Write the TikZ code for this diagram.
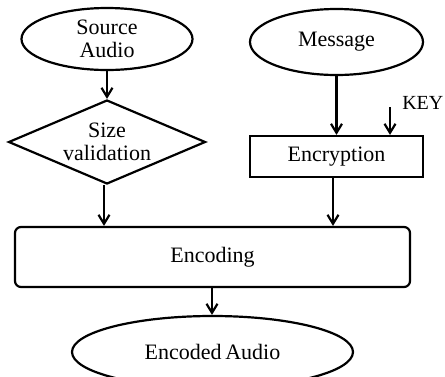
\documentclass[tikz,border=0pt]{standalone}
\usepackage{fontspec}
\setmainfont{Liberation Serif}
\usetikzlibrary{shapes.geometric,arrows.meta}
\begin{document}
\begin{tikzpicture}[x=0.5pt,y=-0.5pt,
  every node/.style={font=\fontsize{11}{11.5}\selectfont, line width=1.1pt, inner sep=0pt, align=center},
  oval/.style={draw, ellipse},
  conn/.style={line width=1.1pt, -{Straight Barb[length=4.5pt,width=5.5pt,line width=1.1pt]}}]
\useasboundingbox (0,0) rectangle (445,376);
\clip (0,0) rectangle (445,376);
\node[oval, minimum width=171pt*0.5, minimum height=62pt*0.5] (src) at (107,39) {Source\\Audio};
\node[draw, diamond, minimum width=197pt*0.5, minimum height=84pt*0.5, aspect=2.35] (val) at (107,142) {Size\\validation};
\node[oval, minimum width=173pt*0.5, minimum height=66pt*0.5] (msg) at (336.5,42) {Message};
\node[draw, rectangle, minimum width=173pt*0.5, minimum height=41pt*0.5] (enc) at (336.5,156.5) {Encryption};
\node[anchor=east, font=\fontsize{10}{11}\selectfont] (key) at (444.5,103) {KEY};
\coordinate (keytop) at (390,107);
\node[draw, rectangle, rounded corners=3pt, minimum width=395pt*0.5, minimum height=60pt*0.5] (encd) at (212.5,257) {Encoding};
\node[oval, minimum width=281pt*0.5, minimum height=72pt*0.5] (out) at (212.5,352) {Encoded\,Audio};
\draw[conn] (src.south) -- (val.north);
\draw[conn] (val.south -| 104,0) -- (encd.north -| 104,0);
\draw[conn] (msg.south) -- (enc.north);
\draw[conn] (keytop) -- (keytop |- enc.north);
\draw[conn] (enc.south -| 333,0) -- (encd.north -| 333,0);
\draw[conn] (encd.south -| 212,0) -- (out.north -| 212,0);
\end{tikzpicture}
\end{document}
